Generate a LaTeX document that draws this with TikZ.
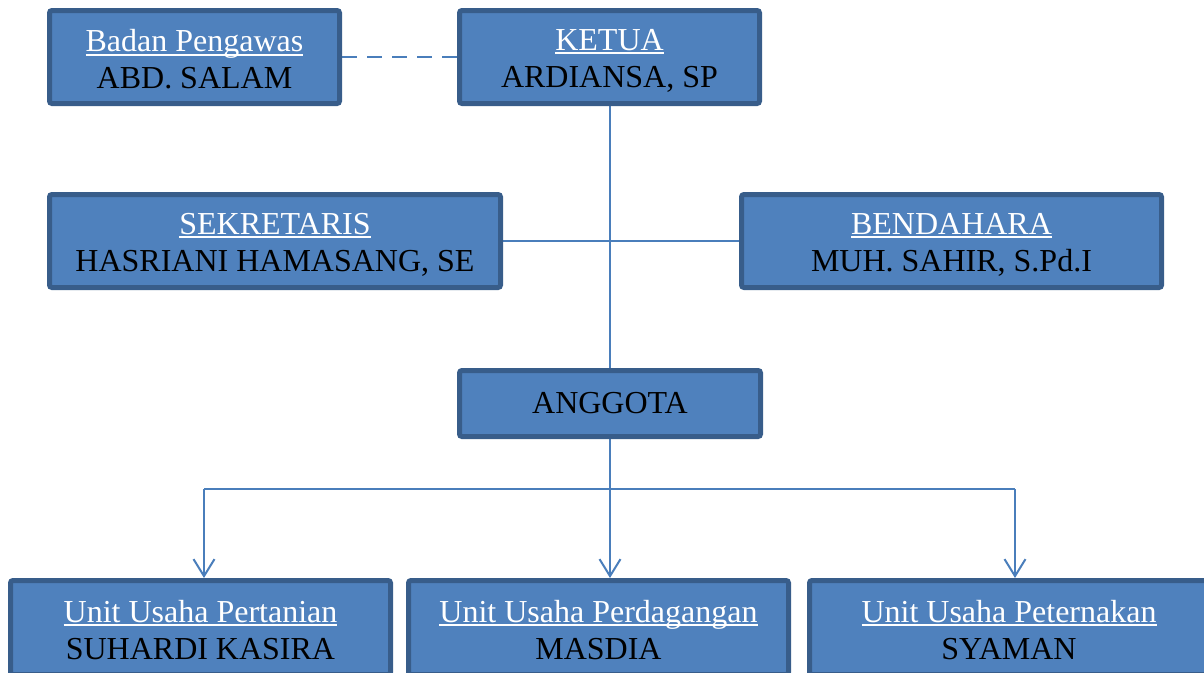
\documentclass[tikz,border=0pt]{standalone}
\usepackage{fontspec}
\setmainfont{Liberation Serif}
\usetikzlibrary{arrows.meta,backgrounds}
\definecolor{boxfill}{HTML}{4F81BD}
\definecolor{boxedge}{HTML}{385D8A}
\definecolor{conn}{HTML}{4A7EBB}
\newcommand\ulwhite[1]{\rule{0pt}{28pt}\textcolor{white}{\setbox0\hbox{#1}\rlap{\vrule height -2.2pt depth 4.4pt width \wd0}\box0}}
\newcommand\botstrut{\rule[-2pt]{0pt}{2pt}}
\tikzset{
  orgbox/.style={draw=boxedge, fill=boxfill, line width=5pt, rounded corners=2.5pt,
    inner sep=0pt, align=center, text=black,
    font=\fontsize{32}{37}\selectfont},
  link/.style={draw=conn, line width=2pt},
  arr/.style={link, -{Straight Barb[length=17pt,width=21pt,line width=2pt]}}
}
\begin{document}
\begin{tikzpicture}[x=1pt,y=-1pt]
\clip (0,0) rectangle (1204,672);
\node[orgbox, minimum width=290pt, minimum height=93pt] (bp) at (194.5,57) {\ulwhite{Badan Pengawas}\\ABD. SALAM\botstrut};
\node[orgbox, minimum width=300pt, minimum height=93pt] (ketua) at (609.5,57) {\ulwhite{KETUA}\\ARDIANSA, SP\botstrut};
\node[orgbox, minimum width=451pt, minimum height=93pt] (sek) at (275,241) {\ulwhite{SEKRETARIS}\\HASRIANI HAMASANG, SE\botstrut};
\node[orgbox, minimum width=420pt, minimum height=93pt] (ben) at (951.5,241) {\ulwhite{BENDAHARA}\\MUH. SAHIR, S.Pd.I\botstrut};
\node[orgbox, minimum width=301pt, minimum height=66pt] (ang) at (610,403.5) {\raisebox{2pt}{ANGGOTA}};
\node[orgbox, minimum width=380pt, minimum height=94pt] (p1) at (200.5,627.5) {\ulwhite{Unit Usaha Pertanian}\\SUHARDI KASIRA\botstrut};
\node[orgbox, minimum width=380pt, minimum height=94pt] (p2) at (598.5,627.5) {\ulwhite{Unit Usaha Perdagangan}\\MASDIA\botstrut};
\node[orgbox, minimum width=399pt, minimum height=94pt] (p3) at (1009,627.5) {\ulwhite{Unit Usaha Peternakan}\\SYAMAN\botstrut};
\coordinate (jL) at (204,489);
\coordinate (jR) at (1015,489);
\coordinate (jM) at (610,489);
\begin{scope}[on background layer]
\draw[link, dash pattern=on 15pt off 10pt] (bp.east) -- (ketua.west);
\draw[link] (ketua.south -| ang.north) -- (ang.north);
\draw[link] (sek.east) -- (ben.west);
\draw[link] (ang.south) -- (jM);
\draw[link] (jL) -- (jR);
\draw[arr] (jL) -- (jL |- p1.north);
\draw[arr] (jM) -- (jM |- p2.north);
\draw[arr] (jR) -- (jR |- p3.north);
\end{scope}
\end{tikzpicture}
\end{document}
